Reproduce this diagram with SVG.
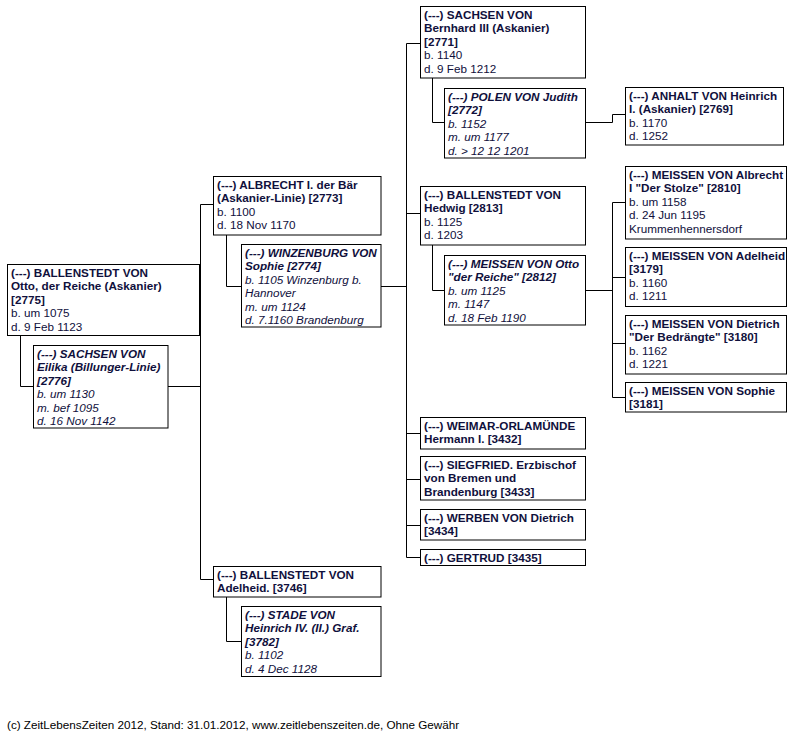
<svg xmlns="http://www.w3.org/2000/svg" width="802" height="736" viewBox="0 0 802 736">
<style>
rect.box{fill:#fff;stroke:#000;stroke-width:1}
.c path{fill:none;stroke:#000;stroke-width:1}
text{font-family:"Liberation Sans",Arial,sans-serif;font-size:11.7px;fill:#10103c}
.b{font-weight:bold}
.i{font-style:italic}
.f{fill:#000}
</style>
<rect width="802" height="736" fill="#fff"/>
<g class="c" id="connectors">
<path d="M20.5 336V386.5H34"/>
<path d="M168 386.5H200.5"/>
<path d="M200.5 204.5V579.5"/>
<path d="M200.5 204.5H213"/>
<path d="M200.5 579.5H213"/>
<path d="M226.5 235V286.5H241"/>
<path d="M381 286.5H406.5"/>
<path d="M406.5 43.5V557.5"/>
<path d="M406.5 43.5H420"/>
<path d="M406.5 213.5H420"/>
<path d="M406.5 433.5H420"/>
<path d="M406.5 479.5H420"/>
<path d="M406.5 525.5H420"/>
<path d="M406.5 557.5H420"/>
<path d="M432.5 78V122.5H444"/>
<path d="M586 122.5H612.5V114.5H625"/>
<path d="M432.5 245V290.5H444"/>
<path d="M585 290.5H612.5"/>
<path d="M612.5 202.5V397.5"/>
<path d="M612.5 202.5H625"/>
<path d="M612.5 277.5H625"/>
<path d="M612.5 343.5H625"/>
<path d="M612.5 397.5H625"/>
<path d="M226.5 597V641.5H241"/>
</g>
<g id="n2775">
<rect class="box" x="7.5" y="264.5" width="192" height="71"/>
<text class="b" x="11" y="277">(---) BALLENSTEDT VON</text>
<text class="b" x="11" y="290.4">Otto, der Reiche (Askanier)</text>
<text class="b" x="11" y="303.8">[2775]</text>
<text x="11" y="317.2">b. um 1075</text>
<text x="11" y="330.6">d. 9 Feb 1123</text>
</g>
<g id="n2776">
<rect class="box" x="33.5" y="345.5" width="134.5" height="82.5"/>
<text class="b i" x="37" y="358">(---) SACHSEN VON</text>
<text class="b i" x="37" y="371.4">Eilika (Billunger-Linie)</text>
<text class="b i" x="37" y="384.8">[2776]</text>
<text class="i" x="37" y="398.2">b. um 1130</text>
<text class="i" x="37" y="411.6">m. bef 1095</text>
<text class="i" x="37" y="425">d. 16 Nov 1142</text>
</g>
<g id="n2773">
<rect class="box" x="213.5" y="176.5" width="167.5" height="58.5"/>
<text class="b" x="217" y="189">(---) ALBRECHT I. der Bär</text>
<text class="b" x="217" y="202.4">(Askanier-Linie) [2773]</text>
<text x="217" y="215.8">b. 1100</text>
<text x="217" y="229.2">d. 18 Nov 1170</text>
</g>
<g id="n2774">
<rect class="box" x="241.5" y="244.5" width="139.5" height="82.5"/>
<text class="b i" x="245" y="257">(---) WINZENBURG VON</text>
<text class="b i" x="245" y="270.4">Sophie [2774]</text>
<text class="i" x="245" y="283.8">b. 1105 Winzenburg b.</text>
<text class="i" x="245" y="297.2">Hannover</text>
<text class="i" x="245" y="310.6">m. um 1124</text>
<text class="i" x="245" y="324">d. 7.1160 Brandenburg</text>
</g>
<g id="n2771">
<rect class="box" x="420.5" y="6.5" width="165" height="71.5"/>
<text class="b" x="424" y="19">(---) SACHSEN VON</text>
<text class="b" x="424" y="32.4">Bernhard III (Askanier)</text>
<text class="b" x="424" y="45.8">[2771]</text>
<text x="424" y="59.2">b. 1140</text>
<text x="424" y="72.6">d. 9 Feb 1212</text>
</g>
<g id="n2772">
<rect class="box" x="444.5" y="88.5" width="141" height="69.5"/>
<text class="b i" x="448" y="101">(---) POLEN VON Judith</text>
<text class="b i" x="448" y="114.4">[2772]</text>
<text class="i" x="448" y="127.8">b. 1152</text>
<text class="i" x="448" y="141.2">m. um 1177</text>
<text class="i" x="448" y="154.6">d. &gt; 12 12 1201</text>
</g>
<g id="n2769">
<rect class="box" x="625.5" y="87.5" width="158" height="57.5"/>
<text class="b" x="629" y="100">(---) ANHALT VON Heinrich</text>
<text class="b" x="629" y="113.4">I. (Askanier) [2769]</text>
<text x="629" y="126.8">b. 1170</text>
<text x="629" y="140.2">d. 1252</text>
</g>
<g id="n2813">
<rect class="box" x="420.5" y="186.5" width="165" height="58.5"/>
<text class="b" x="424" y="199">(---) BALLENSTEDT VON</text>
<text class="b" x="424" y="212.4">Hedwig [2813]</text>
<text x="424" y="225.8">b. 1125</text>
<text x="424" y="239.2">d. 1203</text>
</g>
<g id="n2812">
<rect class="box" x="444.5" y="255.5" width="141" height="69.5"/>
<text class="b i" x="448" y="268">(---) MEISSEN VON Otto</text>
<text class="b i" x="448" y="281.4">"der Reiche" [2812]</text>
<text class="i" x="448" y="294.8">b. um 1125</text>
<text class="i" x="448" y="308.2">m. 1147</text>
<text class="i" x="448" y="321.6">d. 18 Feb 1190</text>
</g>
<g id="n2810">
<rect class="box" x="625.5" y="166.5" width="161" height="72.5"/>
<text class="b" x="629" y="179">(---) MEISSEN VON Albrecht</text>
<text class="b" x="629" y="192.4">I "Der Stolze" [2810]</text>
<text x="629" y="205.8">b. um 1158</text>
<text x="629" y="219.2">d. 24 Jun 1195</text>
<text x="629" y="232.6">Krummenhennersdorf</text>
</g>
<g id="n3179">
<rect class="box" x="625.5" y="247.5" width="161" height="59"/>
<text class="b" x="629" y="260">(---) MEISSEN VON Adelheid</text>
<text class="b" x="629" y="273.4">[3179]</text>
<text x="629" y="286.8">b. 1160</text>
<text x="629" y="300.2">d. 1211</text>
</g>
<g id="n3180">
<rect class="box" x="625.5" y="315.5" width="161" height="58.5"/>
<text class="b" x="629" y="328">(---) MEISSEN VON Dietrich</text>
<text class="b" x="629" y="341.4">"Der Bedrängte" [3180]</text>
<text x="629" y="354.8">b. 1162</text>
<text x="629" y="368.2">d. 1221</text>
</g>
<g id="n3181">
<rect class="box" x="625.5" y="382.5" width="161" height="29.5"/>
<text class="b" x="629" y="395">(---) MEISSEN VON Sophie</text>
<text class="b" x="629" y="408.4">[3181]</text>
</g>
<g id="n3432">
<rect class="box" x="420.5" y="417.5" width="165" height="31.5"/>
<text class="b" x="424" y="430">(---) WEIMAR-ORLAMÜNDE</text>
<text class="b" x="424" y="443.4">Hermann I. [3432]</text>
</g>
<g id="n3433">
<rect class="box" x="420.5" y="456.5" width="165" height="43.5"/>
<text class="b" x="424" y="469">(---) SIEGFRIED. Erzbischof</text>
<text class="b" x="424" y="482.4">von Bremen und</text>
<text class="b" x="424" y="495.8">Brandenburg [3433]</text>
</g>
<g id="n3434">
<rect class="box" x="420.5" y="509.5" width="165" height="30.5"/>
<text class="b" x="424" y="522">(---) WERBEN VON Dietrich</text>
<text class="b" x="424" y="535.4">[3434]</text>
</g>
<g id="n3435">
<rect class="box" x="420.5" y="549.5" width="165" height="16"/>
<text class="b" x="424" y="562">(---) GERTRUD [3435]</text>
</g>
<g id="n3746">
<rect class="box" x="213.5" y="566.5" width="167.5" height="30.5"/>
<text class="b" x="217" y="579">(---) BALLENSTEDT VON</text>
<text class="b" x="217" y="592.4">Adelheid. [3746]</text>
</g>
<g id="n3782">
<rect class="box" x="241.5" y="606.5" width="139.5" height="70"/>
<text class="b i" x="245" y="619">(---) STADE VON</text>
<text class="b i" x="245" y="632.4">Heinrich IV. (II.) Graf.</text>
<text class="b i" x="245" y="645.8">[3782]</text>
<text class="i" x="245" y="659.2">b. 1102</text>
<text class="i" x="245" y="672.6">d. 4 Dec 1128</text>
</g>
<text class="f" x="7" y="729">(c) ZeitLebensZeiten 2012, Stand: 31.01.2012, www.zeitlebenszeiten.de, Ohne Gewähr</text>
</svg>
